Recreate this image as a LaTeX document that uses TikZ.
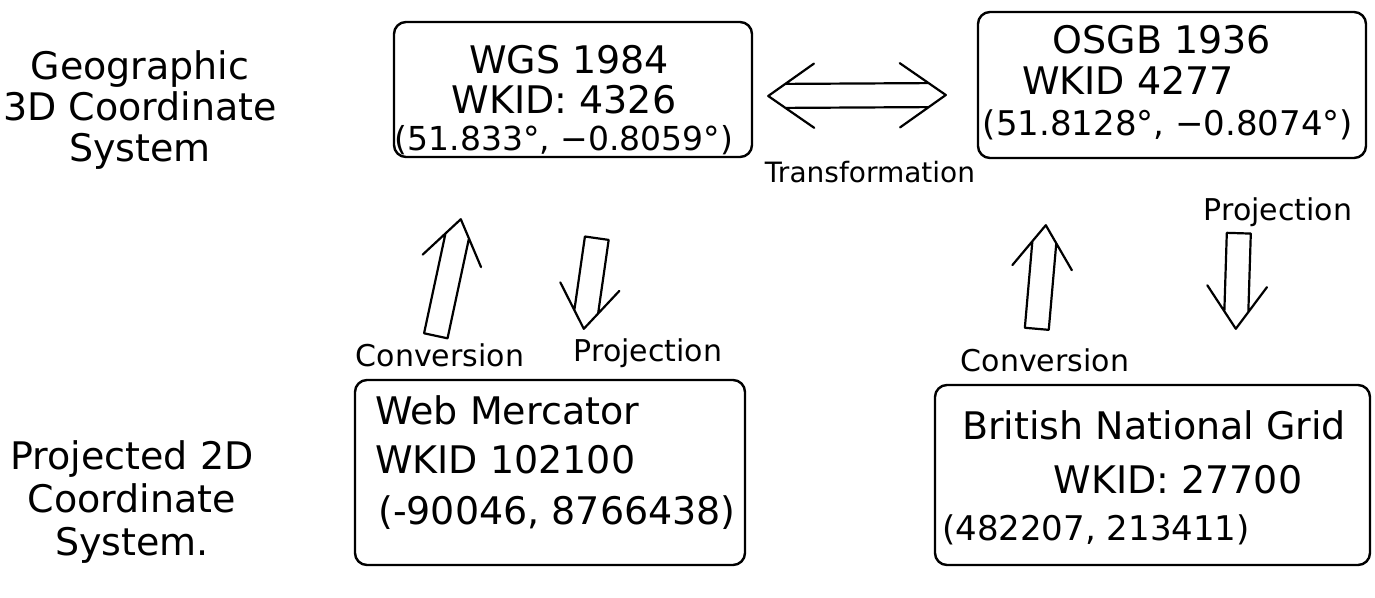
\documentclass[tikz,border=0pt]{standalone}
\usepackage{fontspec}
\setmainfont{DejaVu Sans}
\usetikzlibrary{calc}
\begin{document}
\begin{tikzpicture}[x=1pt,y=-1pt,
  ink/.style={line width=2.4pt, draw=black},
  crsbox/.style={ink, rounded corners=12pt, inner sep=0pt},
  bigtext/.style={font=\fontsize{38}{44}\selectfont, inner sep=0pt},
  coordtext/.style={font=\fontsize{34}{40}\selectfont, inner sep=0pt},
  sidetext/.style={font=\fontsize{38}{41}\selectfont, align=center, inner sep=0pt},
  arrowtext/.style={font=\fontsize{30}{36}\selectfont, inner sep=0pt},
  % open double-line arrow: closed tail, wide straight barbs at the tip
  hollowarrow/.style={line width=2.2pt, line cap=round, line join=round, to path={
    let \p1=($(\tikztotarget)-(\tikztostart)$), \n1={atan2(\y1,\x1)} in
    ($(\tikztostart)+(\n1+90:12pt)$) -- ($(\tikztotarget)+(\n1+180:18pt)+(\n1+90:12pt)$)
    ($(\tikztostart)+(\n1-90:12pt)$) -- ($(\tikztotarget)+(\n1+180:18pt)+(\n1-90:12pt)$)
    ($(\tikztostart)+(\n1+90:12pt)$) -- ($(\tikztostart)+(\n1-90:12pt)$)
    ($(\tikztotarget)+(\n1+145:52pt)$) -- (\tikztotarget) -- ($(\tikztotarget)+(\n1-145:52pt)$)
  }},
  % the same, with a head at both ends
  hollowboth/.style={line width=2.2pt, line cap=round, line join=round, to path={
    let \p1=($(\tikztotarget)-(\tikztostart)$), \n1={atan2(\y1,\x1)} in
    ($(\tikztostart)+(\n1:18pt)+(\n1+90:12pt)$) -- ($(\tikztotarget)+(\n1+180:18pt)+(\n1+90:12pt)$)
    ($(\tikztostart)+(\n1:18pt)+(\n1-90:12pt)$) -- ($(\tikztotarget)+(\n1+180:18pt)+(\n1-90:12pt)$)
    ($(\tikztotarget)+(\n1+145:56pt)$) -- (\tikztotarget) -- ($(\tikztotarget)+(\n1-145:56pt)$)
    ($(\tikztostart)+(\n1+35:56pt)$) -- (\tikztostart) -- ($(\tikztostart)+(\n1-35:56pt)$)
  }}
]
\useasboundingbox (0,0) rectangle (1375,597);

% coordinate-system boxes
\node[crsbox, minimum width=358pt, minimum height=135pt] (wgs)  at (573,89.5) {};
\node[crsbox, minimum width=388pt, minimum height=146pt] (osgb) at (1172,85) {};
\node[crsbox, minimum width=390pt, minimum height=185pt] (web)  at (550,472.5) {};
\node[crsbox, minimum width=435pt, minimum height=180pt] (bng)  at (1152.5,475) {};

% box contents
\node[bigtext] (wgs1) at (569,60)  {WGS 1984};
\node[bigtext] (wgs2) at (564,100) {WKID: 4326};
\node[coordtext, font=\fontsize{33}{40}\selectfont] (wgs3) at (564,140) {(51.833°, −0.8059°)};

\node[bigtext] (osgb1) at (1162,40)  {OSGB 1936};
\node[bigtext] (osgb2) at (1128,80)  {WKID 4277};
\node[coordtext] (osgb3) at (1168,125) {(51.8128°, −0.8074°)};

\node[bigtext, anchor=west] (web1) at (375,410) {Web Mercator};
\node[bigtext, anchor=west] (web2) at (375,460) {WKID 102100};
\node[bigtext, anchor=west] (web3) at (378,513) {(-90046, 8766438)};

\node[bigtext, anchor=west] (bng1) at (962,425) {British National Grid};
\node[bigtext] (bng2) at (1178,480) {WKID: 27700};
\node[coordtext, anchor=west] (bng3) at (942,530) {(482207, 213411)};

% row labels
\node[sidetext] (geo)  at (140,110) {Geographic\\3D Coordinate\\System};
\node[sidetext, font=\fontsize{38}{43}\selectfont] (proj) at (132,502) {Projected 2D\\Coordinate\\System.};

% operations between the systems
\draw[hollowboth] ($(wgs.east)+(15,6.5)$) to ($(osgb.west)+(-31,10)$);
\node[font=\fontsize{28}{32}\selectfont, inner sep=0pt] (trf) at (870,172) {Transformation};

\draw[hollowarrow] ($(web.north west)+(82,-43)$) to ($(wgs.south west)+(68,61)$);
\draw[hollowarrow] ($(wgs.south west)+(204,80)$) to ($(web.north west)+(230,-50)$);
\node[arrowtext] (conv1) at (440,355) {Conversion};
\node[arrowtext] (proj1) at (648,353) {Projection};

\draw[hollowarrow] ($(bng.north west)+(103,-55)$) to ($(osgb.south west)+(69,66)$);
\draw[hollowarrow] ($(osgb.south west)+(262,74)$) to ($(bng.north west)+(302,-55)$);
\node[arrowtext] (conv2) at (1045,360) {Conversion};
\node[arrowtext] (proj2) at (1278,212) {Projection};
\end{tikzpicture}
\end{document}
